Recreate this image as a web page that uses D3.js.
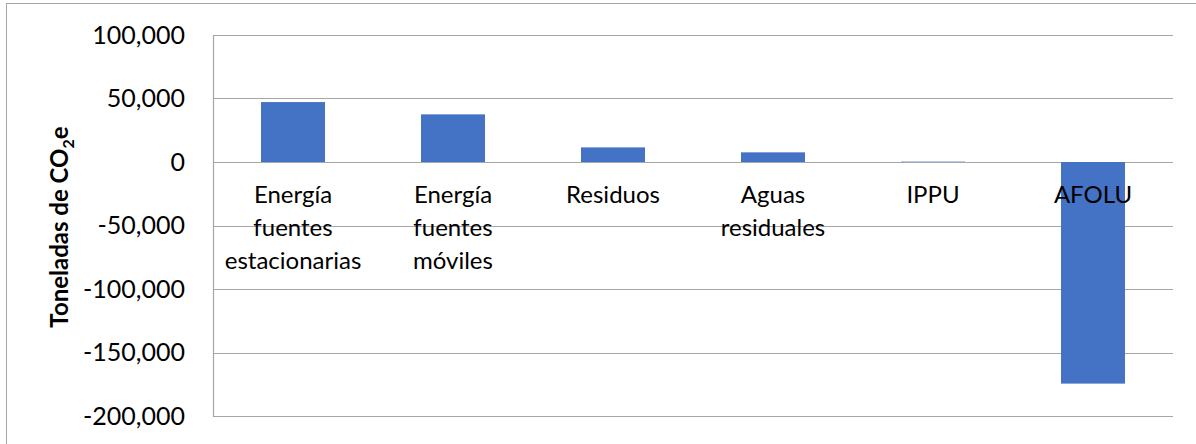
<!DOCTYPE html>
<html>
<head>
<meta charset="utf-8">
<script src="https://cdn.jsdelivr.net/npm/d3@7"></script>
<style>
  html, body { margin: 0; padding: 0; background: #fff; }
  svg { display: block; }
  text { font-family: Lato, "Open Sans", sans-serif; fill: #000; }
</style>
</head>
<body>
<svg id="chart" width="1196" height="444"></svg>
<script>
// Emission sectors and their net balance (t CO2e)
const categories = ["Energía fuentes estacionarias", "Energía fuentes móviles", "Residuos", "Aguas residuales", "IPPU", "AFOLU"];
const values = [47200, 37500, 11500, 7600, 300, -174500];
const yTicks = [100000, 50000, 0, -50000, -100000, -150000, -200000];

const svg = d3.select("#chart");
const W = 1196, H = 444;
const plot = { left: 213, right: 1173, top: 35, bottom: 416 };

// chart frame
svg.append("rect")
  .attr("x", 6.5).attr("y", 3.5)
  .attr("width", W + 10).attr("height", H + 10)
  .attr("fill", "none").attr("stroke", "#a6a6a6").attr("stroke-width", 1);

const x = d3.scaleBand().domain(categories).range([plot.left, plot.right]).paddingInner(0.6).paddingOuter(0.3);
const y = d3.scaleLinear().domain([-200000, 100000]).range([plot.bottom, plot.top]);

// horizontal gridlines
svg.append("g").selectAll("line").data(yTicks).join("line")
  .attr("x1", plot.left).attr("x2", plot.right)
  .attr("y1", d => Math.round(y(d)) + 0.5).attr("y2", d => Math.round(y(d)) + 0.5)
  .attr("stroke", "#a6a6a6").attr("stroke-width", 1.2);

// left axis line
svg.append("line")
  .attr("x1", plot.left + 0.5).attr("x2", plot.left + 0.5)
  .attr("y1", plot.top).attr("y2", plot.bottom + 1)
  .attr("stroke", "#a6a6a6").attr("stroke-width", 1.2);

// y axis labels (plain hyphen for negatives)
const fmt = d => d3.format(",")(d).replace("\u2212", "-");
const yAxis = d3.axisLeft(y).tickValues(yTicks).tickFormat(fmt).tickSize(0).tickPadding(28);
const gy = svg.append("g").attr("transform", `translate(${plot.left},0)`).call(yAxis);
gy.select(".domain").remove();
gy.selectAll("text")
  .attr("font-family", "Lato, sans-serif")
  .attr("font-size", 25).attr("fill", "#000");

// bars
svg.append("g").selectAll("rect").data(values).join("rect")
  .attr("x", (d, i) => x(categories[i]))
  .attr("width", x.bandwidth())
  .attr("y", d => y(Math.max(0, d)))
  .attr("height", d => Math.abs(y(d) - y(0)))
  .attr("fill", "#4472c4");

// category labels, one word per line
const cat = svg.append("g").selectAll("text").data(categories).join("text")
  .attr("text-anchor", "middle")
  .attr("font-size", 24)
  .attr("x", d => x(d) + x.bandwidth() / 2)
  .attr("y", 203);
cat.selectAll("tspan").data(d => d.split(" ")).join("tspan")
  .attr("x", function () { return d3.select(this.parentNode).attr("x"); })
  .attr("dy", (d, i) => i === 0 ? 0 : 33)
  .text(d => d);

// y axis title
const title = svg.append("text")
  .attr("transform", "translate(68,227) rotate(-90)")
  .attr("text-anchor", "middle")
  .attr("font-size", 24).attr("font-weight", "bold");
title.append("tspan").text("Toneladas de CO");
title.append("tspan").attr("font-size", 16).attr("dy", 6).text("2");
title.append("tspan").attr("dy", -6).text("e");
</script>
</body>
</html>
